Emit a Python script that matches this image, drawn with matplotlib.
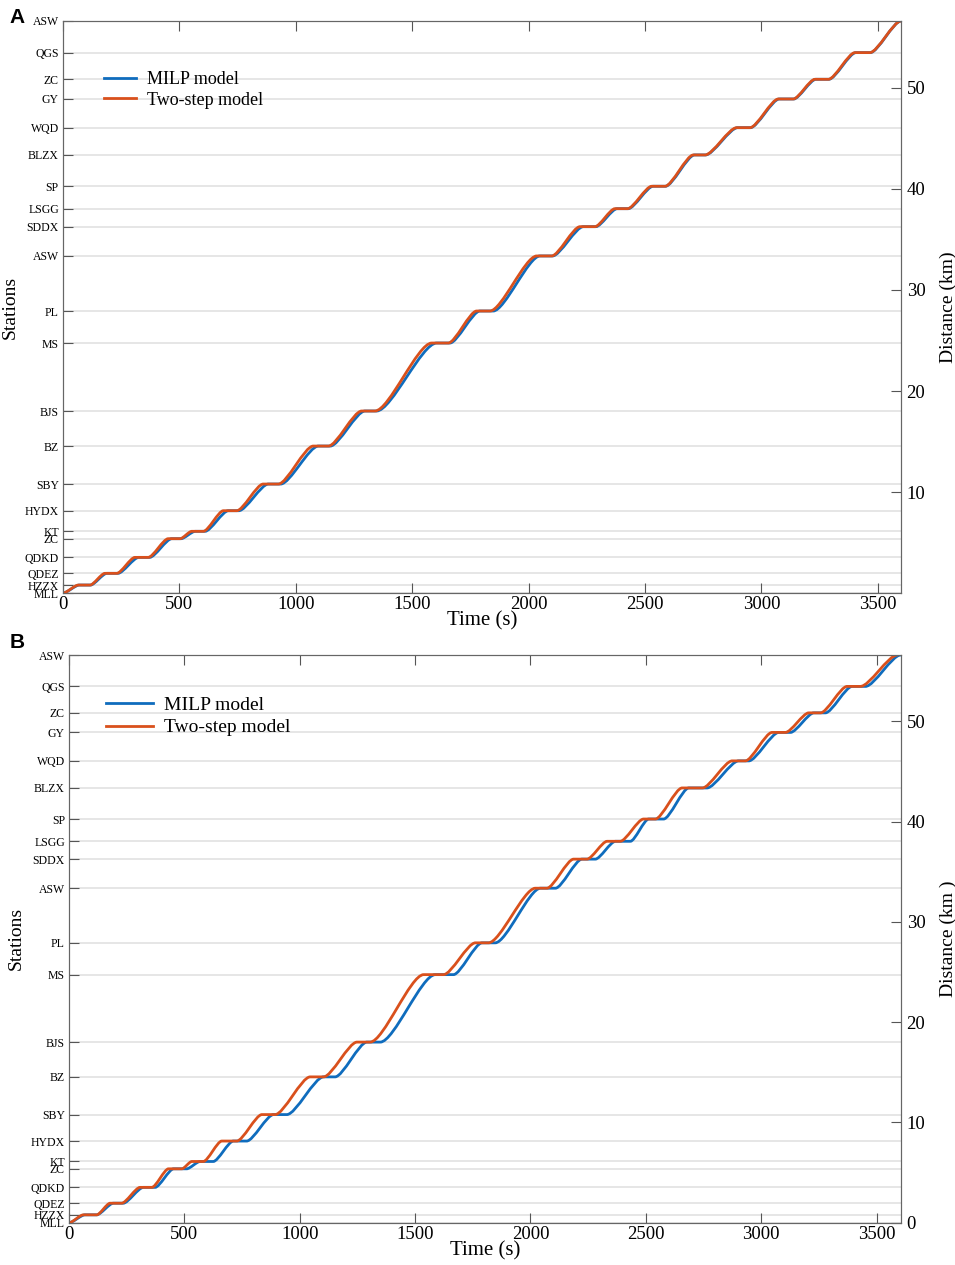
import numpy as np
import matplotlib
matplotlib.use('Agg')
import matplotlib.pyplot as plt
from matplotlib.path import Path
from matplotlib.patches import PathPatch
from matplotlib.lines import Line2D

plt.rcParams['font.family'] = ['Liberation Serif', 'DejaVu Serif']

stations = ['MLL', 'HZZX', 'QDEZ', 'QDKD', 'ZC', 'KT', 'HYDX', 'SBY', 'BZ', 'BJS', 'MS',
            'PL', 'ASW', 'SDDX', 'LSGG', 'SP', 'BLZX', 'WQD', 'GY', 'ZC', 'QGS', 'ASW']
dist_km = [0, 0.79, 1.95, 3.53, 5.38, 6.11, 8.15, 10.79, 14.55, 18.02, 24.75,
           27.92, 33.37, 36.27, 38.05, 40.27, 43.37, 46.07, 48.91, 50.86, 53.50, 56.63]

# panel A: arrival / departure time at each station (s)
a_milp_arr = [0, 70, 188, 325, 467, 568, 710, 882, 1097, 1297, 1605,
              1791, 2049, 2235, 2380, 2535, 2713, 2898, 3077, 3234, 3406, 3600]
a_milp_dep = [0, 118, 236, 372, 507, 610, 755, 935, 1148, 1347, 1662,
              1848, 2103, 2289, 2428, 2588, 2760, 2953, 3139, 3290, 3468, 3600]
a_two_arr = [0, 66, 180, 309, 452, 553, 689, 860, 1075, 1283, 1584,
             1777, 2035, 2221, 2371, 2529, 2708, 2894, 3073, 3230, 3402, 3600]
a_two_dep = [0, 116, 231, 366, 503, 603, 746, 925, 1140, 1340, 1655,
             1834, 2099, 2285, 2425, 2586, 2758, 2951, 3137, 3288, 3466, 3600]

# panel B
b_milp_arr = [0, 69, 192, 322, 453, 568, 712, 886, 1103, 1291, 1587,
              1790, 2043, 2223, 2368, 2512, 2686, 2902, 3076, 3228, 3394, 3604]
b_milp_dep = [0, 120, 235, 373, 510, 625, 770, 944, 1153, 1349, 1666,
              1847, 2108, 2281, 2433, 2577, 2765, 2946, 3127, 3278, 3452, 3604]
b_two_arr = [0, 62, 178, 308, 431, 532, 662, 836, 1045, 1248, 1537,
             1761, 2021, 2187, 2332, 2490, 2657, 2874, 3047, 3206, 3372, 3590]
b_two_dep = [0, 120, 228, 359, 489, 582, 727, 893, 1103, 1305, 1623,
             1818, 2071, 2245, 2389, 2541, 2745, 2931, 3105, 3257, 3430, 3590]

c_milp = '#0f6cbd'
c_two = '#d9501c'


def trajectory(ax, arr, dep, color, z):
    verts = [(dep[0], dist_km[0])]
    codes = [Path.MOVETO]
    for i in range(len(dist_km) - 1):
        t0, t1 = dep[i], arr[i + 1]
        k = 0.25 * (t1 - t0)
        verts += [(t0 + k, dist_km[i]), (t1 - k, dist_km[i + 1]), (t1, dist_km[i + 1])]
        codes += [Path.CURVE4] * 3
        if dep[i + 1] > arr[i + 1]:
            verts.append((dep[i + 1], dist_km[i + 1]))
            codes.append(Path.LINETO)
    ax.add_patch(PathPatch(Path(verts, codes), fill=False, edgecolor=color, lw=2.0,
                           zorder=z, capstyle='round', joinstyle='round'))


def panel(rect, milp, two, xmax, rticks, rlabel, letter, leg):
    ax = fig.add_axes(rect)
    for d in dist_km:
        ax.axhline(d, color='#e2e2e2', lw=1.2, zorder=1)
    trajectory(ax, milp[0], milp[1], c_milp, 3)
    trajectory(ax, two[0], two[1], c_two, 4)
    ax.set_xlim(0, xmax)
    ax.set_ylim(0, dist_km[-1])
    ax.set_xticks(np.arange(0, 3501, 500))
    ax.set_yticks(dist_km)
    ax.set_yticklabels(stations, fontsize=8.5)
    ax.tick_params(axis='x', labelsize=13.5, direction='in', top=True, length=7, color='#555555', pad=2)
    ax.tick_params(axis='y', direction='in', length=7, color='#555555', pad=3)
    for s in ax.spines.values():
        s.set_color('#666666')
    ax.set_xlabel('Time (s)', fontsize=15, labelpad=-1)
    ax.set_ylabel('Stations', fontsize=14)
    ax.yaxis.set_label_coords(-0.053, 0.5)

    ax2 = ax.twinx()
    ax2.set_ylim(0, dist_km[-1])
    ax2.set_yticks(rticks)
    ax2.tick_params(axis='y', labelsize=13.5, direction='in', length=7, color='#555555', pad=4)
    for s in ax2.spines.values():
        s.set_color('#666666')
    ax2.set_ylabel(rlabel, fontsize=14)
    ax2.yaxis.set_label_coords(1.046, 0.5)

    handles = [Line2D([], [], color=c_milp, lw=2.0), Line2D([], [], color=c_two, lw=2.0)]
    ax.legend(handles, ['MILP model', 'Two-step model'], loc='upper left', bbox_to_anchor=leg[0],
              frameon=False, fontsize=leg[1], handlelength=leg[2], handletextpad=0.6,
              labelspacing=leg[3], borderaxespad=0)
    fig.text(0.010, letter[1], letter[0], fontsize=15, fontweight='bold',
             family='Liberation Sans', va='center')
    return ax


fig = plt.figure(figsize=(9.55, 12.65), dpi=100)

panel([0.066, 0.5312, 0.8775, 0.4522], (a_milp_arr, a_milp_dep), (a_two_arr, a_two_dep),
      3600, [10, 20, 30, 40, 50], 'Distance (km)', ('A', 0.9858), ((0.04, 0.925), 13, 1.8, 0.2))
panel([0.0723, 0.0334, 0.8712, 0.4488], (b_milp_arr, b_milp_dep), (b_two_arr, b_two_dep),
      3606, [0, 10, 20, 30, 40, 50], 'Distance (km )', ('B', 0.4917), ((0.035, 0.941), 14, 2.4, 0.25))

fig.savefig('out.png', dpi=100)
